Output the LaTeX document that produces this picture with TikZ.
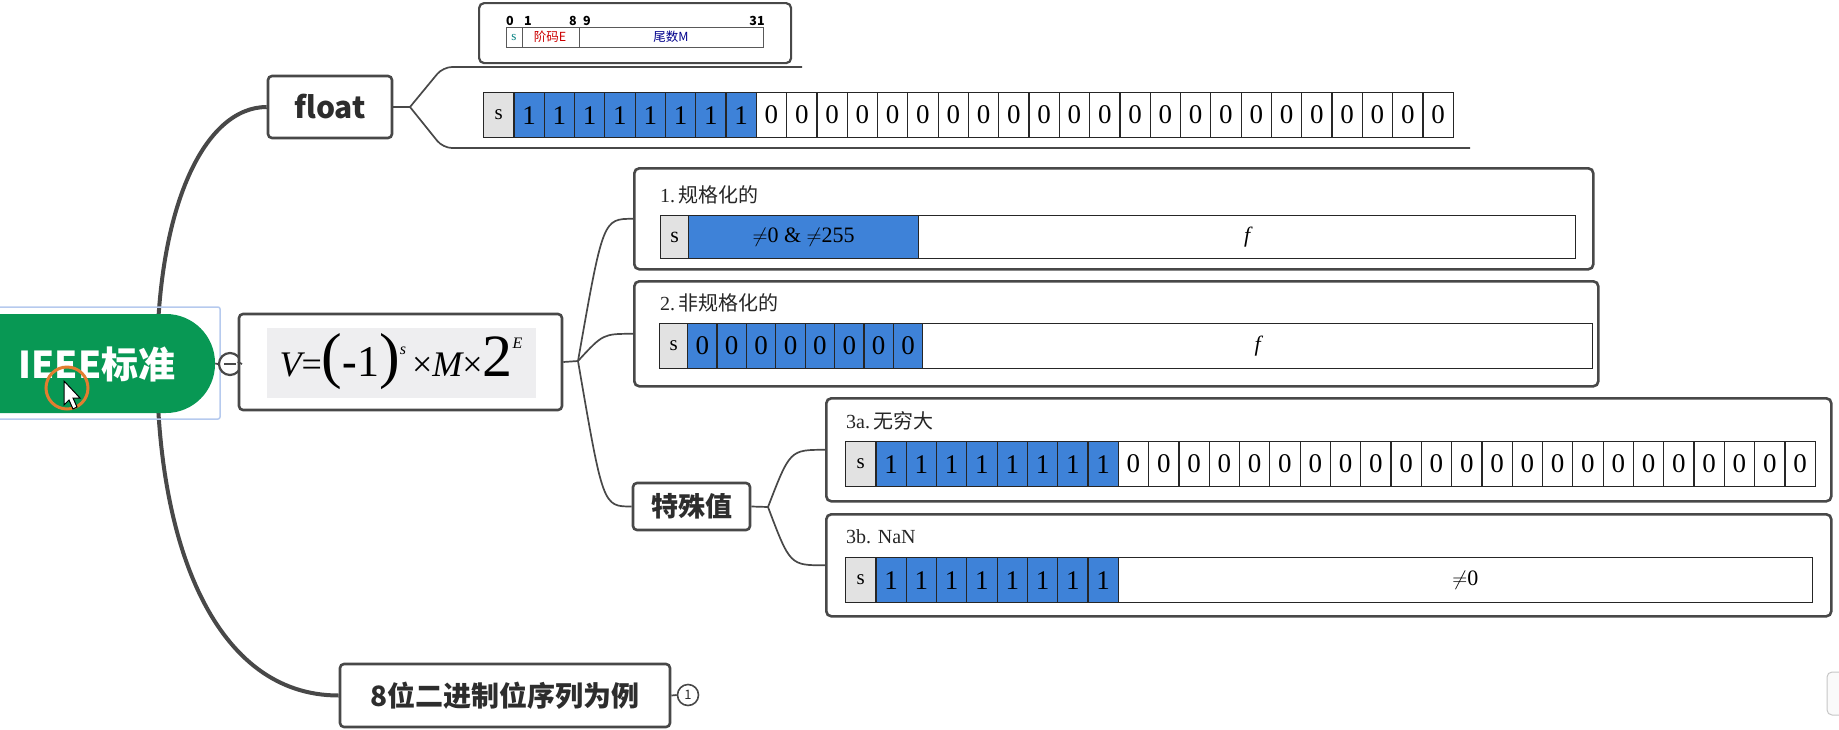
\documentclass[tikz,border=0pt]{standalone}
\usepackage{fontspec}
\setmainfont{Liberation Serif}
\newfontfamily\cjk{Noto Sans CJK SC}
\usetikzlibrary{calc}

\definecolor{mapgreen}{RGB}{8,152,84}
\definecolor{maptext}{RGB}{45,45,45}
\definecolor{mapline}{RGB}{72,72,72}
\definecolor{selblue}{RGB}{182,202,238}
\definecolor{bitblue}{RGB}{62,130,216}
\definecolor{signgray}{RGB}{226,226,226}
\definecolor{eqgray}{RGB}{238,238,240}
\definecolor{cursorring}{RGB}{226,126,48}

\tikzset{
  topic/.style={draw=mapline, line width=2.6pt, rounded corners=4pt, fill=white,
    text=maptext, inner sep=0pt},
  trunk/.style={mapline, line width=4pt},
  branch/.style={mapline, line width=1.7pt},
  card/.style={draw=mapline, line width=2.6pt, rounded corners=5pt, fill=white,
    anchor=north west, inner sep=0pt},
  cardtitle/.style={anchor=west, inner sep=0pt, text=black!85,
    font=\fontsize{20}{20}\selectfont},
  bitcell/.style={draw=black!85, line width=1.2pt, anchor=north west,
    minimum width=30.3pt, minimum height=45pt, inner sep=0pt,
    font=\fontsize{27}{27}\selectfont},
  onecell/.style={bitcell, fill=bitblue},
  signcell/.style={bitcell, fill=signgray, font=\fontsize{21}{21}\selectfont},
  field/.style={draw=black!85, line width=1.2pt, anchor=north west, inner sep=0pt,
    minimum height=43pt, font=\fontsize{22}{22}\selectfont},
}

\begin{document}
\begin{tikzpicture}[x=1pt,y=-1pt]
  \useasboundingbox (0,0) rectangle (1839,729);

  % main branches
  \coordinate (hub) at (157,364);
  \node[topic, minimum width=124pt, minimum height=62pt,
    font=\cjk\bfseries\fontsize{30}{30}\selectfont] (float) at (330,107) {float};
  \node[topic, minimum width=330pt, minimum height=63pt,
    font=\cjk\bfseries\fontsize{28}{28}\selectfont] (example) at (505,695.5) {8位二进制位序列为例};
  \draw[trunk] (float.west) .. controls (205,107) and (157,205) .. (hub)
    .. controls (157,545) and (215,695.5) .. (example.west);

  % central topic
  \draw[selblue, line width=1.5pt, rounded corners=2pt] (-3,307) rectangle (220,419);
  \node[fill=mapgreen, rounded corners=49pt, minimum width=280pt, minimum height=99pt,
    inner sep=0pt] (root) at (75,363.5) {};
  \node[text=white, font=\cjk\bfseries\fontsize{37}{37}\selectfont] (roottitle) at (97,364) {IEEE标准};

  \node[circle, draw=mapline, line width=2.2pt, fill=white, minimum size=22pt,
    inner sep=0pt] (fold) at (230,364) {};
  \draw[mapline, line width=2.4pt] ([xshift=-6pt]fold.center) -- ([xshift=6pt]fold.center);
  \draw[branch] (root.east) -- (fold.west);

  % formula
  \node[topic, minimum width=323pt, minimum height=96pt] (formula) at (400.5,362) {};
  \fill[eqgray] (267,328) rectangle (536,398);
  \node[font=\fontsize{36}{36}\selectfont] (eq) at (401,362)
    {{\itshape V}={\fontsize{62}{62}\selectfont(}{\fontsize{44}{44}\selectfont\bfseries -}{\fontsize{44}{44}\selectfont 1}{\fontsize{62}{62}\selectfont)}\raisebox{22pt}{\fontsize{16}{16}\selectfont\itshape s}\,×{\itshape M}×{\fontsize{60}{60}\selectfont 2}\raisebox{28pt}{\fontsize{16}{16}\selectfont\itshape E}};
  \draw[branch] (fold.east) -- (formula.west);

  % float: layout picture and bit pattern
  \coordinate (fj) at (410,107);
  \coordinate (layoutend) at (802,67);
  \coordinate (patternend) at (1470,148);
  \draw[branch] (float.east) -- (fj);
  \draw[branch, rounded corners=9pt] (fj) -- (443,67) -- (layoutend);
  \draw[branch, rounded corners=9pt] (fj) -- (443,148) -- (patternend);

  \node[card, line width=2.2pt, minimum width=312pt, minimum height=60pt] (layout) at (478,2) {};
  \foreach \x/\t in {510/0, 528/1, 573/8, 587/9, 757/31}
    \node[font=\cjk\bfseries\fontsize{12.5}{12.5}\selectfont] (lbl\t) at (\x,20.5) {\t};
  \node[draw=black!65, line width=1pt, anchor=north west, minimum width=257pt,
    minimum height=20pt, inner sep=0pt] (bar) at (506,27) {};
  \draw[black!65, line width=1pt] (522,27) -- (522,47) (579,27) -- (579,47);
  \node[text=teal, font=\fontsize{13}{13}\selectfont] (barsign) at (514,37) {s};
  \node[text=red!80!black, font=\cjk\fontsize{12.5}{12.5}\selectfont] (barexp) at (550,37) {阶码E};
  \node[text=blue!55!black, font=\cjk\fontsize{12.5}{12.5}\selectfont] (barfrac) at (671,37) {尾数M};

  \node[signcell] (fs) at (483,92) {s};
  \foreach \i in {1,...,8}
    \node[onecell] (f\i) at ({483+30.3*\i},92) {1};
  \foreach \i in {9,...,31}
    \node[bitcell] (f\i) at ({483+30.3*\i},92) {0};

  % formula branches
  \coordinate (vj) at (578,361);
  \coordinate (vjc) at (603,361);
  \node[card, minimum width=959pt, minimum height=101pt] (normal) at (633,167) {};
  \node[card, minimum width=964pt, minimum height=105pt] (denorm) at (633,280) {};
  \node[topic, minimum width=117pt, minimum height=47pt,
    font=\cjk\bfseries\fontsize{27}{27}\selectfont] (special) at (691.5,506.5) {特殊值};
  \draw[branch] (formula.east) -- (vj);
  \draw[branch] (vj) .. controls (vjc |- normal.west) .. (normal.west);
  \draw[branch] (vj) .. controls (vjc |- denorm.west) .. (denorm.west);
  \draw[branch] (vj) .. controls (vjc |- special.west) .. (special.west);

  % 1. normalized
  \node[cardtitle] (normaltitle) at (660,195) {1.\,{\cjk 规格化的}};
  \node[field, fill=signgray, minimum width=28pt] (nsign) at (660,215) {s};
  \node[field, fill=bitblue, minimum width=230pt] (nexp) at (688,215) {$\neq$0 \& $\neq$255};
  \node[field, minimum width=657pt] (nfrac) at (918,215) {\itshape f};

  % 2. denormalized
  \node[cardtitle] (denormtitle) at (660,303) {2.\,{\cjk 非规格化的}};
  \node[signcell, minimum width=28pt] (dsign) at (659,323) {s};
  \foreach \i in {1,...,8}
    \node[bitcell, fill=bitblue, minimum width=29.4pt] (d\i) at ({687+29.4*(\i-1)},323) {0};
  \node[field, minimum width=670pt, minimum height=45pt] (dfrac) at (922,323) {\itshape f};

  % 3. special values
  \coordinate (sj) at (768,507);
  \coordinate (sjc) at (790,507);
  \node[card, minimum width=1005pt, minimum height=103pt] (inf) at (825,397) {};
  \node[card, minimum width=1005pt, minimum height=102pt] (nan) at (825,513) {};
  \draw[branch] (special.east) -- (sj);
  \draw[branch] (sj) .. controls (sjc |- inf.west) .. (inf.west);
  \draw[branch] (sj) .. controls (sjc |- nan.west) .. (nan.west);

  \node[cardtitle] (inftitle) at (846,421) {3a.\,{\cjk 无穷大}};
  \node[signcell] (isign) at (845,441) {s};
  \foreach \i in {1,...,8}
    \node[onecell] (i\i) at ({845+30.3*\i},441) {1};
  \foreach \i in {9,...,31}
    \node[bitcell] (i\i) at ({845+30.3*\i},441) {0};

  \node[cardtitle] (nantitle) at (846,537) {3b. NaN};
  \node[signcell] (asign) at (845,557) {s};
  \foreach \i in {1,...,8}
    \node[onecell] (a\i) at ({845+30.3*\i},557) {1};
  \node[field, minimum width=694pt, minimum height=45pt] (afrac) at (1117.7,557) {$\neq$0};

  % example topic
  \node[circle, draw=mapline, line width=1.6pt, minimum size=21pt, inner sep=0pt,
    text=maptext, font=\cjk\fontsize{13}{13}\selectfont] (more) at (688,695) {1};
  \draw[branch] (example.east) -- (more.west);

  % screen leftovers
  \draw[black!22, line width=1pt, rounded corners=5pt, fill=black!2] (1827,672) rectangle (1860,715);
  \draw[cursorring, line width=3pt] (67,388) circle [radius=21];
  \filldraw[fill=white, draw=black, line width=1pt] (64,381) -- ++(0,24) -- ++(5,-5)
    -- ++(4,9) -- ++(4,-2) -- ++(-4,-9) -- ++(7,0) -- cycle;

\end{tikzpicture}
\end{document}
